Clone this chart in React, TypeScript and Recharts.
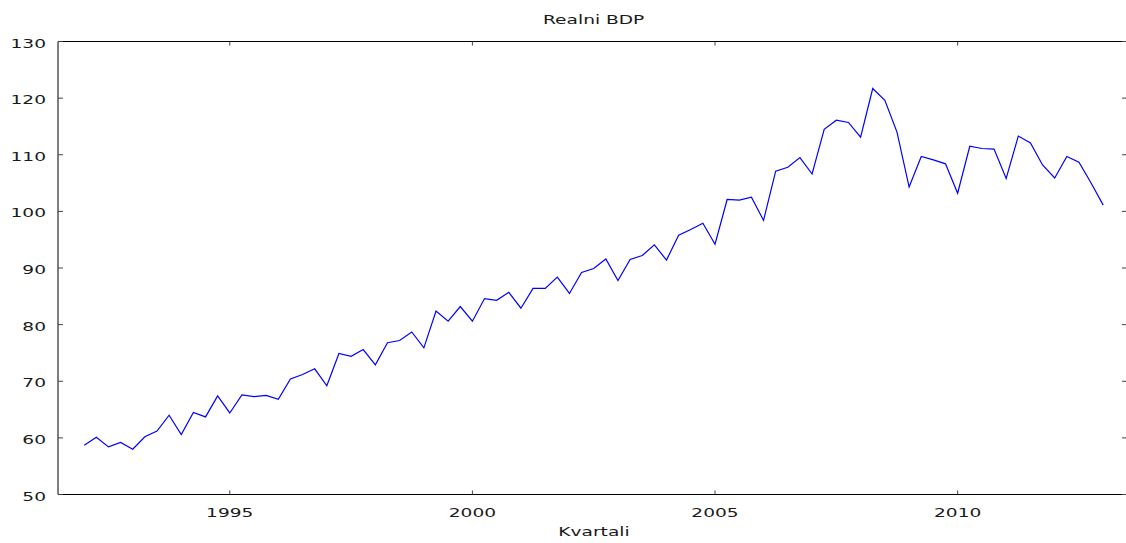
import React from 'react';
import { LineChart, Line, XAxis, YAxis } from 'recharts';

// quarterly real GDP index, 1992:1 .. 2013:1
const START_YEAR = 1992;
const gdpValues = [
  58.7, 60.1, 58.4, 59.2,
  58.0, 60.2, 61.2, 64.0,
  60.6, 64.5, 63.7, 67.4,
  64.4, 67.6, 67.3, 67.5,
  66.8, 70.4, 71.2, 72.2,
  69.2, 74.9, 74.4, 75.6,
  72.9, 76.8, 77.2, 78.7,
  75.9, 82.4, 80.6, 83.2,
  80.6, 84.6, 84.3, 85.7,
  82.9, 86.4, 86.4, 88.4,
  85.5, 89.2, 89.9, 91.6,
  87.8, 91.5, 92.2, 94.1,
  91.4, 95.8, 96.8, 97.9,
  94.2, 102.1, 102.0, 102.5,
  98.4, 107.1, 107.8, 109.5,
  106.6, 114.5, 116.1, 115.7,
  113.1, 121.7, 119.6, 114.0,
  104.3, 109.7, 109.1, 108.4,
  103.2, 111.5, 111.1, 111.0,
  105.8, 113.3, 112.1, 108.2,
  105.9, 109.7, 108.7, 105.0,
  101.1,
];

const xTicks = [1995, 2000, 2005, 2010];
const yTicks = [50, 60, 70, 80, 90, 100, 110, 120, 130];
const X_DOMAIN: [number, number] = [1991.46, 2013.49];
const Y_DOMAIN: [number, number] = [50, 130];

const data = gdpValues.map((v, i) => ({
  t: START_YEAR + i / 4,
  label: `${START_YEAR + Math.floor(i / 4)}:${(i % 4) + 1}`,
  value: v,
}));

const FONT = '"DejaVu Sans", Verdana, sans-serif';
const STRETCH = 1.55;
const TEXT = '#1a1a1a';
const TICK = '#444';

const WideText = ({ x, y, anchor, children }: any) => (
  <g transform={`translate(${x},${y}) scale(${STRETCH},1)`}>
    <text x={0} y={0} textAnchor={anchor} fontFamily={FONT} fontSize={12} fill={TEXT}>
      {children}
    </text>
  </g>
);

const LeftTick = ({ x, y, payload }: any) => (
  <g>
    <line x1={x} x2={x + 5} y1={y} y2={y} stroke={TICK} />
    <WideText x={x - 12} y={y + 6} anchor="end">{payload.value}</WideText>
  </g>
);

const RightTick = ({ x, y }: any) => (
  <line x1={x} x2={x - 5} y1={y} y2={y} stroke={TICK} />
);

const BottomTick = ({ x, y, payload }: any) => (
  <g>
    <line x1={x} x2={x} y1={y} y2={y - 4} stroke={TICK} />
    <WideText x={x} y={y + 22} anchor="middle">{payload.value}</WideText>
  </g>
);

const TopTick = ({ x, y }: any) => (
  <line x1={x} x2={x} y1={y} y2={y + 4} stroke={TICK} />
);

const wideLabel: React.CSSProperties = {
  position: 'absolute',
  left: 0,
  width: 1188,
  textAlign: 'center',
  fontFamily: FONT,
  fontSize: 12,
  lineHeight: '12px',
  color: TEXT,
  whiteSpace: 'nowrap',
};

export default function App() {
  return (
    <div
      style={{
        position: 'absolute',
        left: 0,
        top: 0,
        width: 1126,
        height: 543,
        overflow: 'hidden',
        background: '#fff',
      }}
    >
      <LineChart
        width={1130}
        height={543}
        data={data}
        margin={{ top: 40.5, right: 2, bottom: 47.5, left: 0 }}
      >
        <XAxis
          type="number"
          dataKey="t"
          domain={X_DOMAIN}
          allowDataOverflow
          ticks={xTicks}
          interval={0}
          height={1}
          tickSize={0}
          tickMargin={0}
          tickLine={false}
          axisLine={{ stroke: '#000' }}
          tick={<BottomTick />}
        />
        <XAxis
          xAxisId="top"
          orientation="top"
          type="number"
          dataKey="t"
          domain={X_DOMAIN}
          allowDataOverflow
          ticks={xTicks}
          interval={0}
          height={1}
          tickSize={0}
          tickMargin={0}
          tickLine={false}
          axisLine={{ stroke: '#000' }}
          tick={<TopTick />}
        />
        <YAxis
          type="number"
          domain={Y_DOMAIN}
          allowDataOverflow
          ticks={yTicks}
          interval={0}
          width={58}
          tickSize={0}
          tickMargin={0}
          tickLine={false}
          axisLine={{ stroke: '#000' }}
          tick={<LeftTick />}
        />
        <YAxis
          yAxisId="right"
          orientation="right"
          type="number"
          domain={Y_DOMAIN}
          allowDataOverflow
          ticks={yTicks}
          interval={0}
          width={1}
          tickSize={0}
          tickMargin={0}
          tickLine={false}
          axisLine={{ stroke: '#000' }}
          tick={<RightTick />}
        />
        <Line
          type="linear"
          dataKey="value"
          stroke="#0000ff"
          strokeWidth={1.2}
          dot={false}
          activeDot={false}
          isAnimationActive={false}
        />
      </LineChart>
      <div style={{ ...wideLabel, top: 13.8 }}>
        <span style={{ display: 'inline-block', transform: `scaleX(${STRETCH})` }}>Realni BDP</span>
      </div>
      <div style={{ ...wideLabel, top: 525.5 }}>
        <span style={{ display: 'inline-block', transform: `scaleX(${STRETCH})` }}>Kvartali</span>
      </div>
    </div>
  );
}
